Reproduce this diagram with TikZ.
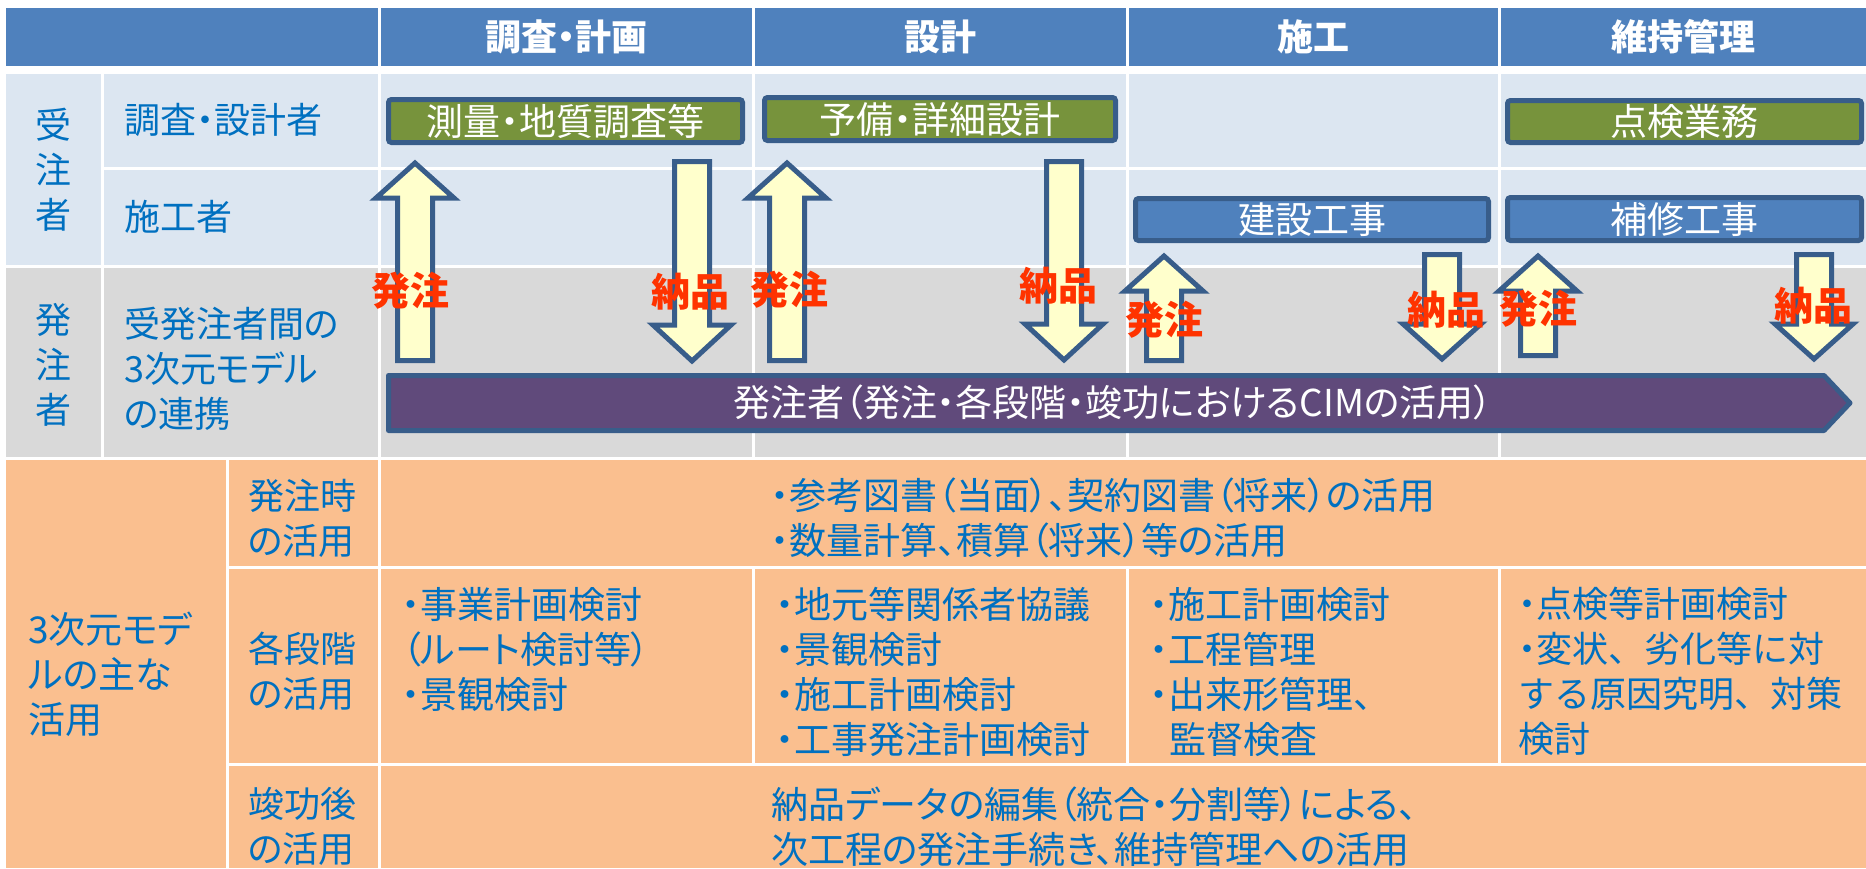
\documentclass[tikz,border=0pt]{standalone}
\usepackage{fontspec}
\newfontfamily\jp{Noto Sans CJK JP}
\newfontfamily\jpp[RawFeature=+palt]{Noto Sans CJK JP}
\definecolor{hdr}{RGB}{79,129,189}
\definecolor{ltblue}{RGB}{220,230,241}
\definecolor{grayc}{RGB}{217,217,217}
\definecolor{orng}{RGB}{250,191,143}
\definecolor{txtblue}{RGB}{0,112,192}
\definecolor{grn}{RGB}{119,147,60}
\definecolor{bord}{RGB}{56,93,138}
\definecolor{purp}{RGB}{96,74,123}
\definecolor{ylw}{RGB}{255,255,204}
\definecolor{redt}{RGB}{255,51,0}
\tikzset{
  tx/.style={inner sep=0pt, font=\jpp\fontsize{37}{45}\selectfont},
  lbltx/.style={inner sep=0pt, font=\jpp\fontsize{36}{45}\selectfont, text=txtblue, align=left},
  bluetx/.style={tx, text=txtblue, align=left},
  hdrtx/.style={inner sep=0pt, font=\jpp\bfseries\fontsize{36}{45}\selectfont, text=white},
  redtx/.style={inner sep=0pt, font=\jpp\bfseries\fontsize{39}{45}\selectfont, text=redt},
  boxbase/.style={draw=bord, line width=5pt, rounded corners=3pt, inner sep=0pt,
     text=white, font=\jpp\fontsize{37}{45}\selectfont},
  gbox/.style={boxbase, fill=grn},
  bbox/.style={boxbase, fill=hdr},
  barrow/.style={draw=bord, line width=5pt, fill=ylw, line join=miter},
  parrow/.style={draw=bord, line width=5pt, fill=purp, line join=round},
}
\newcommand\UpArr[4]{% cx, tip, headbase, bottom
  \draw[barrow] (#1,{#2+4}) -- ({#1+39},{#3-2}) -- ({#1+17.5},{#3-2}) -- ({#1+17.5},{#4-2.5})
    -- ({#1-17.5},{#4-2.5}) -- ({#1-17.5},{#3-2}) -- ({#1-39},{#3-2}) -- cycle;}
\newcommand\DnArr[4]{% cx, top, headbase, tip
  \draw[barrow] (#1,{#4-4}) -- ({#1+39},{#3+2}) -- ({#1+17.5},{#3+2}) -- ({#1+17.5},{#2+2.5})
    -- ({#1-17.5},{#2+2.5}) -- ({#1-17.5},{#3+2}) -- ({#1-39},{#3+2}) -- cycle;}
\begin{document}
\begin{tikzpicture}[x=1pt,y=-1pt]
\useasboundingbox (0,0) rectangle (1866,868);
\fill[white] (0,0) rectangle (1866,868);
% header row
\fill[hdr] (6,8) rectangle (378,66);
\fill[hdr] (381,8) rectangle (752,66);
\fill[hdr] (755,8) rectangle (1126,66);
\fill[hdr] (1129,8) rectangle (1498,66);
\fill[hdr] (1501,8) rectangle (1866,66);
% contractor rows
\fill[ltblue] (6,74) rectangle (101,265);
\foreach \a/\b in {104/378,381/752,755/1126,1129/1498,1501/1866}{
  \fill[ltblue] (\a,74) rectangle (\b,167);
  \fill[ltblue] (\a,170) rectangle (\b,265);
  \fill[grayc] (\a,268) rectangle (\b,457);
}
\fill[grayc] (6,268) rectangle (101,457);
% orange section
\fill[orng] (6,460) rectangle (226,868);
\fill[orng] (229,460) rectangle (378,566);
\fill[orng] (229,569) rectangle (378,763);
\fill[orng] (229,766) rectangle (378,868);
\fill[orng] (381,460) rectangle (1866,566);
\fill[orng] (381,766) rectangle (1866,868);
\foreach \a/\b in {381/752,755/1126,1129/1498,1501/1866}{
  \fill[orng] (\a,569) rectangle (\b,763);
}
% headers
\node[hdrtx] (h1) at (566.5,37) {調査・計画};
\node[hdrtx] (h2) at (940.5,37) {設計};
\node[hdrtx] (h3) at (1313.5,37) {施工};
\node[hdrtx] (h4) at (1683.5,37) {維持管理};
% left labels
\node[lbltx, align=center] (juchu) at (53.5,170) {受\\注\\者};
\node[lbltx, anchor=west] (chosa) at (124,120) {調査・設計者};
\node[lbltx, anchor=west] (seko) at (124,217) {施工者};
\node[lbltx, align=center] (hatchu) at (53.5,365) {発\\注\\者};
\node[lbltx, anchor=north west] (renkei) at (124,307) {受発注者間の\\3次元モデル\\の連携};
\node[bluetx, anchor=north west] (shuna) at (28,612) {3次元モデ\\ルの主な\\活用};
\node[lbltx, anchor=north west] (ji) at (248,479) {発注時\\の活用};
\node[lbltx, anchor=north west] (kaku) at (248,632) {各段階\\の活用};
\node[lbltx, anchor=north west] (shunko) at (248,787) {竣功後\\の活用};
% orange contents
\node[bluetx, anchor=north west] (c1) at (771,478) {・参考図書（当面）、契約図書（将来）の活用\\・数量計算、積算（将来）等の活用};
\node[bluetx, anchor=north west] (k1) at (402,587) {・事業計画検討\\（ルート検討等）\\・景観検討};
\node[bluetx, anchor=north west] (k2) at (776,587) {・地元等関係者協議\\・景観検討\\・施工計画検討\\・工事発注計画検討};
\node[bluetx, anchor=north west] (k3) at (1150,587) {・施工計画検討\\・工程管理\\・出来形管理、\\\hspace*{19pt}監督検査};
\node[bluetx, anchor=north west, font=\jp\fontsize{36}{45}\selectfont] (k4) at (1518,587) {{\jpp ・}点検等計画検討\\{\jpp ・}変状、劣化等に対\\する原因究明、対策\\検討};
\node[bluetx, anchor=north west] (c3) at (771,787) {納品データの編集（統合・分割等）による、\\次工程の発注手続き、維持管理への活用};
% block arrows
\UpArr{415}{159}{200}{363}
\DnArr{692}{159}{323}{365}
\UpArr{787}{159}{200}{363}
\DnArr{1064}{159}{322}{364}
\UpArr{1164}{252}{293}{363}
\DnArr{1442}{252}{322}{363}
\UpArr{1538}{252}{293}{358}
\DnArr{1814}{252}{322}{363}
% work boxes
\node[gbox, minimum width=354pt, minimum height=43pt] (g1) at (565.5,121) {測量・地質調査等};
\node[gbox, minimum width=351pt, minimum height=43pt] (g2) at (940,119) {予備・詳細設計};
\node[gbox, minimum width=354pt, minimum height=42pt] (g3) at (1684.5,121.5) {点検業務};
\node[bbox, minimum width=353pt, minimum height=42pt] (b1) at (1312,219.5) {建設工事};
\node[bbox, minimum width=354pt, minimum height=43pt] (b2) at (1684.5,219) {補修工事};
% purple arrow
\draw[parrow] (388.5,375.5) -- (1824,375.5) -- (1850,403) -- (1824,430.5) -- (388.5,430.5) -- cycle;
\node[tx, text=white] (pt) at (1113,402) {発注者（発注・各段階・竣功におけるCIMの活用）};
% red labels
\node[redtx] (r1) at (410,291) {発注};
\node[redtx] (r2) at (690,292) {納品};
\node[redtx] (r3) at (789,290) {発注};
\node[redtx] (r4) at (1058,286) {納品};
\node[redtx] (r5) at (1164,320) {発注};
\node[redtx] (r6) at (1446,310) {納品};
\node[redtx] (r7) at (1538,309) {発注};
\node[redtx] (r8) at (1813,306) {納品};
\end{tikzpicture}
\end{document}
